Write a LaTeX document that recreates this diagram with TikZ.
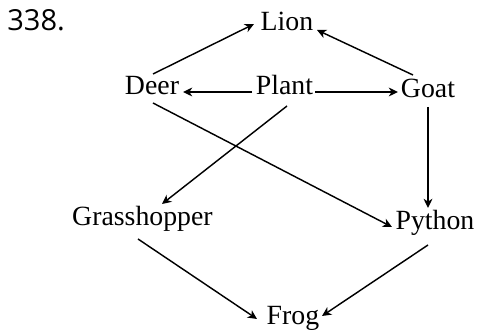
\documentclass[tikz,border=0pt]{standalone}
\usepackage{fontspec}
\setmainfont{Liberation Serif}
\newfontfamily\numfont{Open Sans}
\usetikzlibrary{arrows.meta}
\tikzset{
  lbl/.style={anchor=base, inner sep=0pt, font=\fontsize{13.9}{16}\selectfont},
  arr/.style={line width=0.72pt, -{Stealth[length=4.6pt,width=4.4pt,inset=1.4pt]}}
}
\begin{document}
\begin{tikzpicture}[x=0.5pt,y=-0.5pt]
\useasboundingbox (0,0) rectangle (477,336);
\node[anchor=base west, inner sep=0pt, font=\numfont\fontsize{14.5}{17}\selectfont] (num) at (7,31) {338.};
\node[lbl] (lion) at (287,31) {Lion};
\node[lbl] (deer) at (152,95) {Deer};
\node[lbl] (plant) at (284.5,95) {Plant};
\node[lbl] (goat) at (428,98) {Goat};
\node[lbl] (grass) at (142.5,226) {Grasshopper};
\node[lbl] (python) at (435,230) {Python};
\node[lbl] (frog) at (293,325) {Frog};
\draw[arr] ([shift={(1,-21)}]deer.base) -- ([shift={(-33,-7)}]lion.base);
\draw[arr] ([shift={(-15,-23)}]goat.base) -- ([shift={(30,-1)}]lion.base);
\draw[arr] ([shift={(-32.5,-3)}]plant.base) -- ([shift={(31,-3)}]deer.base);
\draw[arr] ([shift={(30.5,-3)}]plant.base) -- ([shift={(-30,-6)}]goat.base);
\draw[arr] ([shift={(2.5,11)}]plant.base) -- ([shift={(19.5,-22)}]grass.base);
\draw[arr] ([shift={(1,8)}]deer.base) -- ([shift={(-43,-3)}]python.base);
\draw[arr] ([shift={(0,9)}]goat.base) -- ([shift={(-7,-22)}]python.base);
\draw[arr] ([shift={(-4.5,13)}]grass.base) -- ([shift={(-36,-6)}]frog.base);
\draw[arr] ([shift={(-7,15)}]python.base) -- ([shift={(29,-9)}]frog.base);
\end{tikzpicture}
\end{document}
